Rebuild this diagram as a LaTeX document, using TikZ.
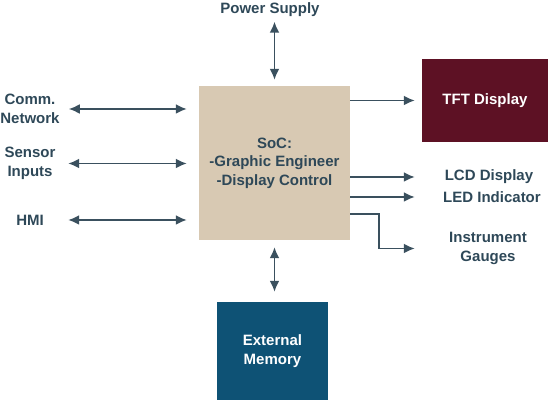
\documentclass[tikz,border=0pt]{standalone}
\usepackage{fontspec}
\setmainfont{Liberation Sans}
\usetikzlibrary{arrows.meta, positioning}
\definecolor{socTan}{RGB}{216,201,179}
\definecolor{tftRed}{RGB}{93,17,36}
\definecolor{memBlue}{RGB}{14,82,117}
\definecolor{inkSlate}{RGB}{46,72,88}
\definecolor{lineSlate}{RGB}{58,80,94}
\tikzset{
    txt/.style={font=\bfseries\fontsize{15}{18.5}\selectfont, align=center, inner sep=1pt},
    inLabel/.style={txt, text=inkSlate, minimum width=60pt},
    outLabel/.style={txt, text=inkSlate, minimum width=100pt},
    topLabel/.style={txt, text=inkSlate},
    socBox/.style={txt, rectangle, fill=socTan, text=inkSlate, minimum width=151pt, minimum height=154pt},
    tftBox/.style={txt, rectangle, fill=tftRed, text=white, minimum width=126pt, minimum height=83pt},
    memBox/.style={txt, rectangle, fill=memBlue, text=white, minimum width=111pt, minimum height=98pt},
    busLink/.style={{Latex[length=11pt,width=10pt]}-{Latex[length=11pt,width=10pt]}, line width=1.9pt, draw=lineSlate},
    outLink/.style={-{Latex[length=11pt,width=10pt]}, line width=1.9pt, draw=lineSlate},
}

\begin{document}
\begin{tikzpicture}[x=1pt, y=-1pt]
    \useasboundingbox (0,0) rectangle (550,403);

    \node[socBox] (soc) at (274.5,163) {SoC:\\-Graphic Engineer\\-Display Control};
    \node[tftBox] (tft) at (485,100.5) {TFT Display};
    \node[memBox] (mem) at (272.5,351) {External\\Memory};

    \node[topLabel] (power) at (270,9.5) {Power Supply};
    \node[inLabel] (comm) at (30,109) {Comm.\\Network};
    \node[inLabel] (sensor) at (30,163.5) {Sensor\\Inputs};
    \node[inLabel] (hmi) at (30,220) {HMI};
    \node[outLabel] (lcd) at (489,177) {LCD Display};
    \node[outLabel] (led) at (492,197) {LED Indicator};
    \node[outLabel] (gauges) at (488,248.5) {Instrument\\Gauges};

    % inputs to the SoC
    \foreach \src in {comm, sensor, hmi}
        \draw[busLink, shorten <=8pt, shorten >=12pt] (\src.east) -- (\src -| soc.west);

    \draw[busLink, shorten <=4pt, shorten >=6pt] (soc.north |- power.south) -- (soc.north);
    \draw[busLink, shorten <=7pt, shorten >=10pt] (soc.south) -- (soc.south |- mem.north);

    % outputs
    \draw[outLink, shorten >=7pt] (soc.east |- tft.west) -- (tft.west);
    \draw[outLink, shorten >=24pt] (soc.east |- lcd.west) -- (lcd.west);
    \draw[outLink, shorten >=27pt] (soc.east |- led.west) -- (led.west);
    \draw[outLink, shorten >=23pt] ([yshift=-51pt]soc.east) -- ++(29,0) |- (gauges.west);

\end{tikzpicture}
\end{document}
